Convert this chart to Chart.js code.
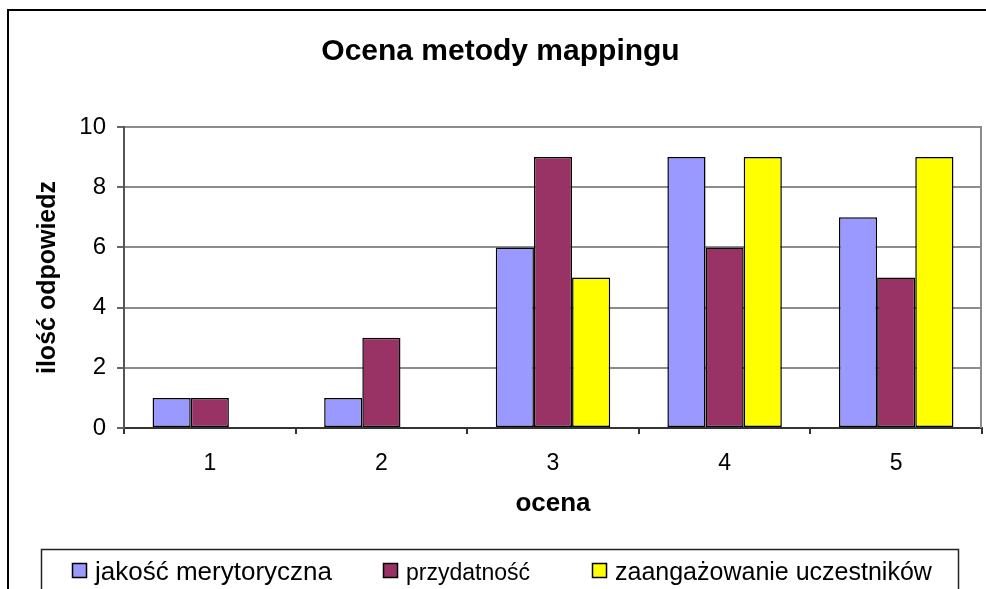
<!DOCTYPE html>
<html>
<head>
<meta charset="utf-8">
<script src="https://cdn.jsdelivr.net/npm/chart.js@4.4.1/dist/chart.umd.min.js"></script>
<style>
  html, body { margin: 0; padding: 0; background: #fff; }
  canvas { display: block; }
</style>
</head>
<body>
<canvas id="chart" width="986" height="589"></canvas>
<script>
// Data
const categories = ['1', '2', '3', '4', '5'];
const jakoscMerytoryczna = [1, 1, 6, 9, 7];
const przydatnosc = [1, 3, 9, 6, 5];
const zaangazowanieUczestnikow = [0, 0, 5, 9, 9];
const seriesNames = ['jakość merytoryczna', 'przydatność', 'zaangażowanie uczestników'];
const seriesColors = ['#9999FF', '#993366', '#FFFF00'];

const FONT = "'Liberation Sans', Arial, sans-serif";

// Excel-like frame, plot border and bottom legend
const excelFrame = {
    id: 'excelFrame',
    beforeDraw(chart) {
        const ctx = chart.ctx;
        ctx.save();
        ctx.fillStyle = '#fff';
        ctx.fillRect(0, 0, chart.width, chart.height);
        ctx.restore();
    },
    beforeDatasetsDraw(chart) {
        const { ctx, chartArea } = chart;
        ctx.save();
        ctx.strokeStyle = '#8c8c8c';
        ctx.lineWidth = 2;
        ctx.beginPath();
        ctx.moveTo(chartArea.right - 1, chartArea.top);
        ctx.lineTo(chartArea.right - 1, chartArea.bottom);
        ctx.stroke();
        ctx.restore();
    },
    afterDraw(chart) {
        const ctx = chart.ctx;
        ctx.save();

        // outer chart border (runs off the right and bottom edges)
        ctx.strokeStyle = '#000';
        ctx.lineWidth = 2;
        ctx.strokeRect(8, 10, 1100, 700);

        // legend box
        ctx.lineWidth = 1.5;
        ctx.strokeStyle = '#222';
        ctx.strokeRect(41.5, 549.5, 917, 60);

        const boxX = [72, 383, 592];
        const sizes = [26, 23, 25];
        chart.data.datasets.forEach((ds, i) => {
            ctx.fillStyle = ds.backgroundColor;
            ctx.fillRect(boxX[i], 563, 15, 15);
            ctx.lineWidth = 1.5;
            ctx.strokeStyle = '#000';
            ctx.strokeRect(boxX[i] + 0.5, 563.5, 14, 14);

            ctx.fillStyle = '#000';
            ctx.font = sizes[i] + 'px ' + FONT;
            ctx.textBaseline = 'alphabetic';
            ctx.textAlign = 'left';
            ctx.fillText(ds.label, boxX[i] + 23, 580);
        });
        ctx.restore();
    }
};

new Chart(document.getElementById('chart'), {
    type: 'bar',
    data: {
        labels: categories,
        datasets: [
            {
                label: seriesNames[0],
                data: jakoscMerytoryczna,
                backgroundColor: seriesColors[0]
            },
            {
                label: seriesNames[1],
                data: przydatnosc,
                backgroundColor: seriesColors[1]
            },
            {
                label: seriesNames[2],
                data: zaangazowanieUczestnikow,
                backgroundColor: seriesColors[2]
            }
        ].map(ds => Object.assign(ds, {
            borderColor: '#000',
            borderWidth: 1.5,
            borderSkipped: false,
            categoryPercentage: 0.667,
            barPercentage: 1.0
        }))
    },
    options: {
        responsive: false,
        animation: false,
        layout: {
            padding: { top: 0, left: 19, right: 4, bottom: 0 }
        },
        plugins: {
            legend: { display: false },
            tooltip: { enabled: false },
            title: {
                display: true,
                text: 'Ocena metody mappingu',
                color: '#000',
                font: { family: FONT, size: 30, weight: 'bold' },
                padding: { top: 34, bottom: 57 }
            }
        },
        scales: {
            x: {
                offset: true,
                grid: {
                    offset: true,
                    drawOnChartArea: false,
                    drawTicks: true,
                    tickLength: 6,
                    color: '#333',
                    lineWidth: 2
                },
                border: { color: '#333', width: 2 },
                ticks: {
                    color: '#000',
                    padding: 16,
                    font: { family: FONT, size: 23 }
                },
                title: {
                    display: true,
                    text: 'ocena',
                    color: '#000',
                    font: { family: FONT, size: 26, weight: 'bold' },
                    padding: { top: 0, bottom: 70 }
                },
                afterFit(scale) { scale.height = 161; }
            },
            y: {
                min: 0,
                max: 10,
                grid: {
                    color: '#8c8c8c',
                    lineWidth: 2,
                    tickLength: 7,
                    tickColor: '#666'
                },
                border: { color: '#555', width: 2 },
                ticks: {
                    stepSize: 2,
                    color: '#000',
                    padding: 11,
                    font: { family: FONT, size: 24 }
                },
                title: {
                    display: true,
                    text: 'ilość odpowiedz',
                    color: '#000',
                    font: { family: FONT, size: 25, weight: 'bold' },
                    padding: { top: 14, bottom: 0 }
                },
                afterFit(scale) { scale.width = 105; }
            }
        }
    },
    plugins: [excelFrame]
});
</script>
</body>
</html>
